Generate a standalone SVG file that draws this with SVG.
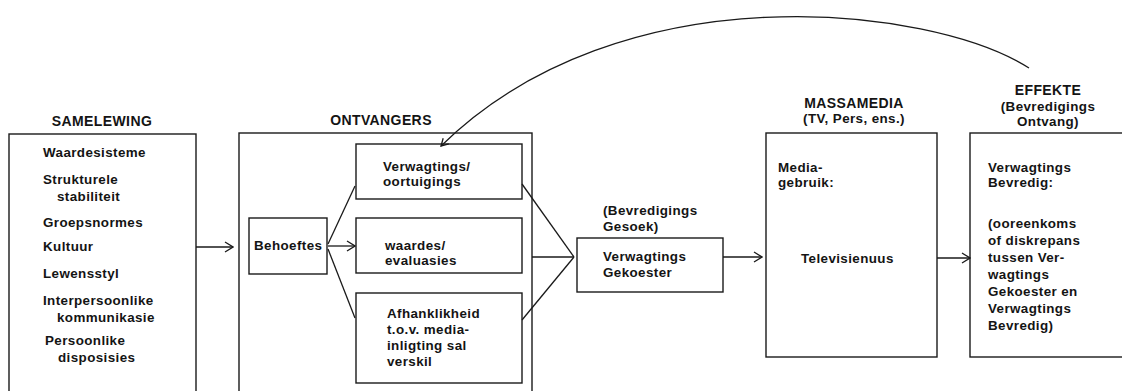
<svg xmlns="http://www.w3.org/2000/svg" width="1122" height="391" viewBox="0 0 1122 391">
<style>
text{font-family:"Liberation Sans",Arial,sans-serif;font-weight:bold;font-size:13.4px;fill:#141414;letter-spacing:0.4px}
.t{font-size:14px}
.m{text-anchor:middle}
.box{fill:none;stroke:#1a1a1a;stroke-width:1.4}
.ln{fill:none;stroke:#1a1a1a;stroke-width:1.3}
</style>
<defs>
<marker id="ah" markerWidth="10" markerHeight="12" refX="9" refY="6" orient="auto" markerUnits="userSpaceOnUse">
<path d="M1,1 L9,6 L1,11" fill="none" stroke="#1a1a1a" stroke-width="1.3"/>
</marker>
<marker id="ah2" markerWidth="10" markerHeight="10" refX="8" refY="5" orient="auto" markerUnits="userSpaceOnUse">
<path d="M1,1 L8,5 L1,9" fill="none" stroke="#1a1a1a" stroke-width="1.3"/>
</marker>
</defs>
<g id="samelewing">
<text class="t m" x="102" y="126">SAMELEWING</text>
<rect class="box" x="9" y="134" width="187" height="300"/>
<text x="43" y="157">Waardesisteme</text>
<text x="43" y="184">Strukturele</text>
<text x="57" y="201">stabiliteit</text>
<text x="43" y="227">Groepsnormes</text>
<text x="43" y="251">Kultuur</text>
<text x="43" y="278">Lewensstyl</text>
<text x="43" y="305">Interpersoonlike</text>
<text x="57" y="322">kommunikasie</text>
<text x="45" y="345">Persoonlike</text>
<text x="58" y="362">disposisies</text>
</g>
<g id="ontvangers">
<text class="t m" x="381" y="125">ONTVANGERS</text>
<rect class="box" x="239" y="133" width="293" height="300"/>
</g>
<g id="behoeftes">
<rect class="box" x="249" y="218" width="78" height="56"/>
<text x="254" y="250">Behoeftes</text>
</g>
<g id="verwagtings">
<rect class="box" x="356" y="144" width="166" height="55"/>
<text x="383" y="171">Verwagtings/</text>
<text x="383" y="186">oortuigings</text>
</g>
<g id="waardes">
<rect class="box" x="356" y="218" width="166" height="55"/>
<text x="385" y="250">waardes/</text>
<text x="385" y="265">evaluasies</text>
</g>
<g id="afhanklikheid">
<rect class="box" x="356" y="293" width="166" height="90"/>
<text x="387" y="318">Afhanklikheid</text>
<text x="387" y="334">t.o.v. media-</text>
<text x="387" y="350">inligting sal</text>
<text x="387" y="366">verskil</text>
</g>
<g id="gekoester">
<text x="603" y="215">(Bevredigings</text>
<text x="603" y="231">Gesoek)</text>
<rect class="box" x="577" y="238" width="146" height="54"/>
<text x="603" y="261">Verwagtings</text>
<text x="603" y="277">Gekoester</text>
</g>
<g id="massamedia">
<text class="t m" x="854" y="108">MASSAMEDIA</text>
<text class="m" x="854" y="123">(TV, Pers, ens.)</text>
<rect class="box" x="766" y="133" width="171" height="224"/>
<text x="778" y="172">Media-</text>
<text x="778" y="187">gebruik:</text>
<text x="801" y="263">Televisienuus</text>
</g>
<g id="effekte">
<text class="t m" x="1048" y="95">EFFEKTE</text>
<text class="m" x="1048" y="111">(Bevredigings</text>
<text class="m" x="1048" y="126">Ontvang)</text>
<rect class="box" x="970" y="133" width="200" height="224"/>
<text x="988" y="172">Verwagtings</text>
<text x="988" y="187">Bevredig:</text>
<text x="988" y="228">(ooreenkoms</text>
<text x="988" y="245">of diskrepans</text>
<text x="988" y="262">tussen Ver-</text>
<text x="988" y="279">wagtings</text>
<text x="988" y="296">Gekoester en</text>
<text x="988" y="313">Verwagtings</text>
<text x="988" y="330">Bevredig)</text>
</g>
<g id="connectors">
<line class="ln" x1="196" y1="247" x2="233" y2="247" marker-end="url(#ah)"/>
<line class="ln" x1="328" y1="246" x2="355" y2="246" marker-end="url(#ah)"/>
<line class="ln" x1="328" y1="244" x2="355" y2="186"/>
<line class="ln" x1="328" y1="249" x2="355" y2="318"/>
<line class="ln" x1="522" y1="184" x2="574" y2="257"/>
<line class="ln" x1="532" y1="257" x2="574" y2="257"/>
<line class="ln" x1="522" y1="320" x2="574" y2="257"/>
<line class="ln" x1="723" y1="257" x2="762" y2="257" marker-end="url(#ah)"/>
<line class="ln" x1="937" y1="258" x2="970" y2="258" marker-end="url(#ah)"/>
<path class="ln" d="M1029,68 C930,5 620,-30 441,146" marker-end="url(#ah2)"/>
</g>
</svg>
